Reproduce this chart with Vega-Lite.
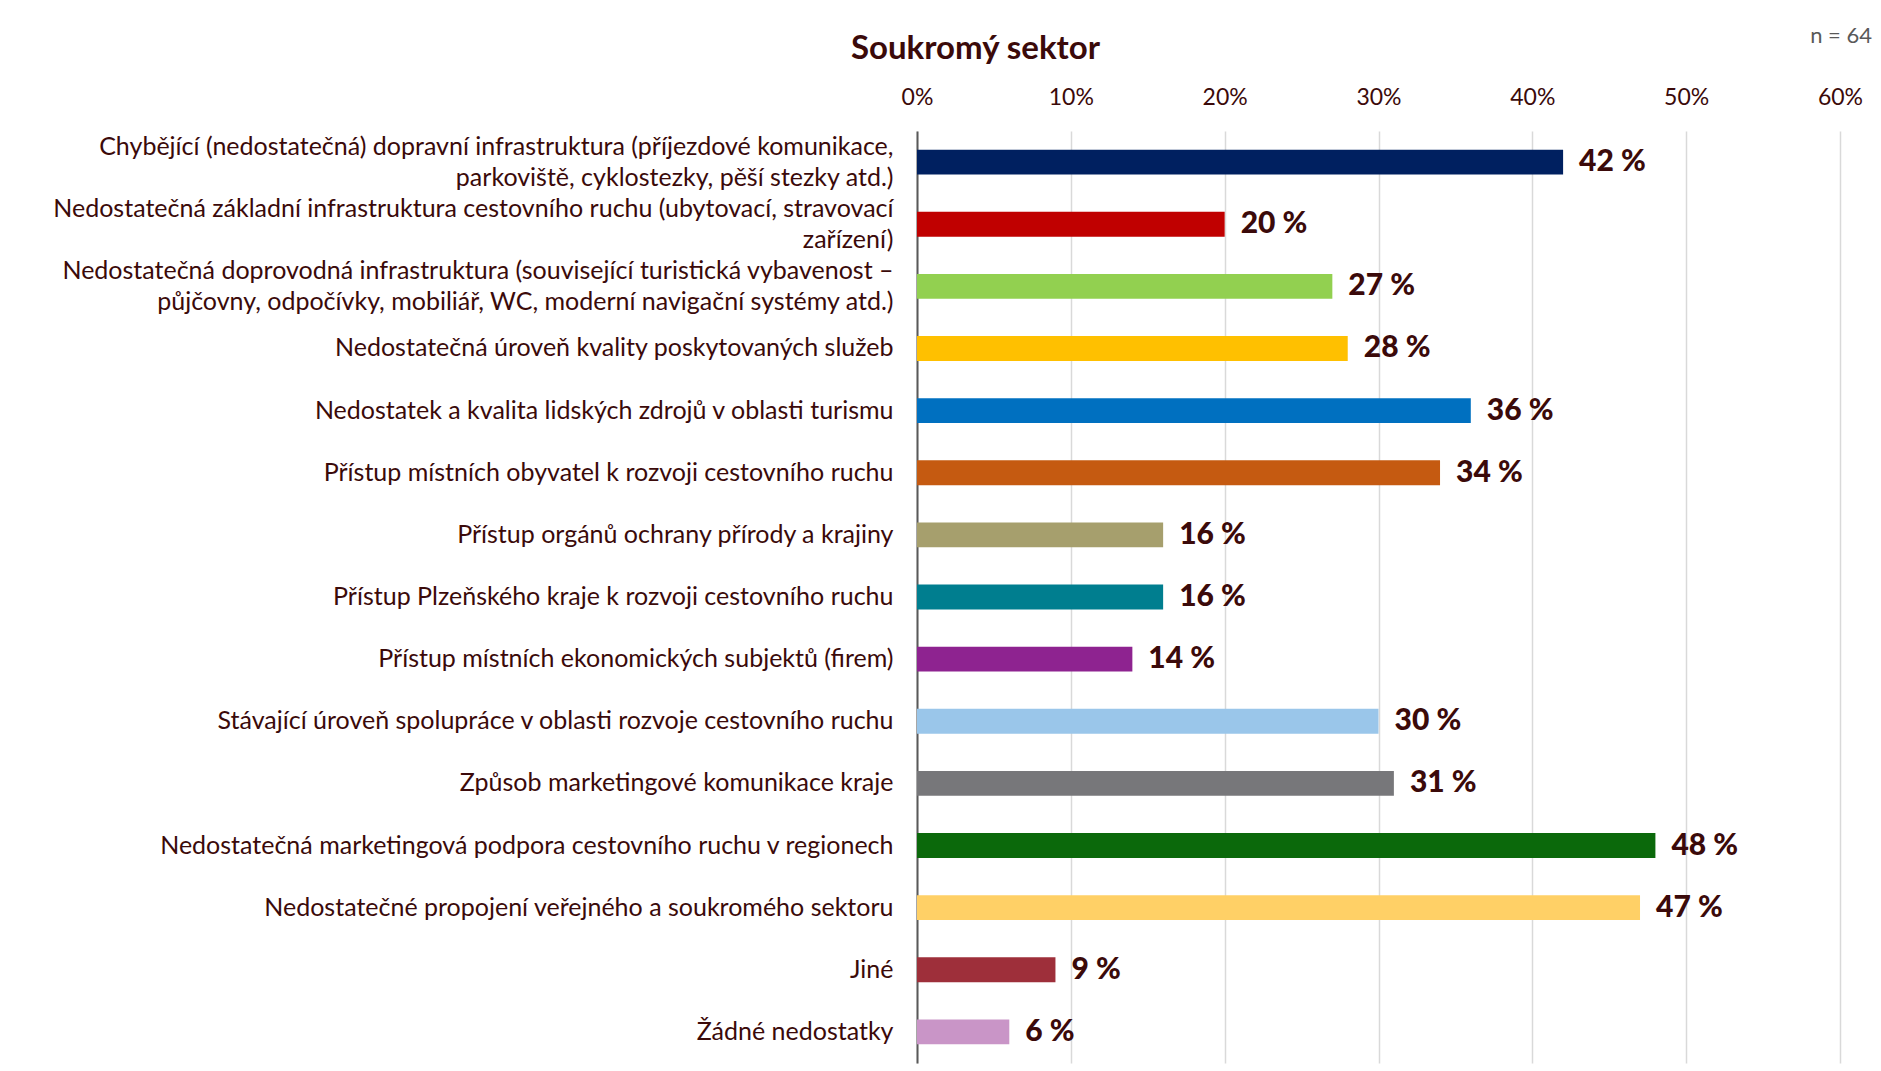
{
  "$schema": "https://vega.github.io/schema/vega-lite/v6.json",
  "width": 923,
  "height": 932,
  "autosize": "none",
  "padding": {"left": 917, "top": 131, "right": 41, "bottom": 8},
  "background": "white",
  "title": {
    "text": "n = 64",
    "anchor": "end",
    "frame": "group",
    "fontSize": 22,
    "fontWeight": "normal",
    "color": "#595959",
    "font": "Lato",
    "dx": 32,
    "offset": 0,
    "dy": 16
  },
  "config": {
    "view": {"stroke": null},
    "font": "Lato"
  },
  "data": {
    "values": [
      {"k": "Chybějící (nedostatečná) dopravní infrastruktura (příjezdové komunikace,\nparkoviště, cyklostezky, pěší stezky atd.)", "value": 42},
      {"k": "Nedostatečná základní infrastruktura cestovního ruchu (ubytovací, stravovací\nzařízení)", "value": 20},
      {"k": "Nedostatečná doprovodná infrastruktura (související turistická vybavenost –\npůjčovny, odpočívky, mobiliář, WC, moderní navigační systémy atd.)", "value": 27},
      {"k": "Nedostatečná úroveň kvality poskytovaných služeb", "value": 28},
      {"k": "Nedostatek a kvalita lidských zdrojů v oblasti turismu", "value": 36},
      {"k": "Přístup místních obyvatel k rozvoji cestovního ruchu", "value": 34},
      {"k": "Přístup orgánů ochrany přírody a krajiny", "value": 16},
      {"k": "Přístup Plzeňského kraje k rozvoji cestovního ruchu", "value": 16},
      {"k": "Přístup místních ekonomických subjektů (firem)", "value": 14},
      {"k": "Stávající úroveň spolupráce v oblasti rozvoje cestovního ruchu", "value": 30},
      {"k": "Způsob marketingové komunikace kraje", "value": 31},
      {"k": "Nedostatečná marketingová podpora cestovního ruchu v regionech", "value": 48},
      {"k": "Nedostatečné propojení veřejného a soukromého sektoru", "value": 47},
      {"k": "Jiné", "value": 9},
      {"k": "Žádné nedostatky", "value": 6}
    ]
  },
  "transform": [{"calculate": "datum.value + ' %'", "as": "lab"}],
  "encoding": {
    "y": {
      "field": "k",
      "type": "nominal",
      "sort": null,
      "scale": {"paddingInner": 0.6, "paddingOuter": 0.3},
      "axis": {
        "title": null,
        "labelExpr": "split(datum.label, '\\n')",
        "labelOffset": {"expr": "indexof(datum.value, '\\n') >= 0 ? -15 : 0"},
        "labelFontSize": 25,
        "labelColor": "#3B0A0A",
        "labelLineHeight": 31,
        "labelPadding": 24,
        "labelLimit": 1000,
        "ticks": false,
        "domain": true,
        "domainColor": "#595959",
        "domainWidth": 2,
        "grid": false
      }
    }
  },
  "layer": [
    {
      "mark": {"type": "bar"},
      "encoding": {
        "x": {
          "field": "value",
          "type": "quantitative",
          "scale": {"domain": [0, 60], "nice": false},
          "axis": {
            "orient": "top",
            "values": [0, 10, 20, 30, 40, 50, 60],
            "labelExpr": "datum.value + '%'",
            "labelFontSize": 23,
            "labelColor": "#3B0A0A",
            "labelPadding": 22,
            "labelFlush": false,
            "labelBound": false,
            "domain": false,
            "ticks": false,
            "grid": true,
            "gridColor": "#D9D9D9",
            "gridWidth": 1.5,
            "title": "Soukromý sektor",
            "titleFontSize": 33,
            "titleFontWeight": "bold",
            "titleColor": "#3B0A0A",
            "titleX": 58,
            "titleY": -83,
            "titleAlign": "center",
            "titleBaseline": "middle",
            "titleAnchor": null
          }
        },
        "color": {
          "field": "k",
          "type": "nominal",
          "sort": null,
          "legend": null,
          "scale": {
            "range": ["#002060", "#C00000", "#92D050", "#FFC000", "#0070C0", "#C55A11", "#A69F6D", "#007E8F", "#8E2390", "#9AC6EA", "#77777A", "#0B690B", "#FFD066", "#9E2F3A", "#C995C7"]
          }
        }
      }
    },
    {
      "mark": {"type": "text", "align": "left", "baseline": "middle", "dx": 16, "fontSize": 30, "fontWeight": 900, "color": "#3B0A0A", "font": "Lato"},
      "encoding": {
        "x": {"field": "value", "type": "quantitative"},
        "text": {"field": "lab"}
      }
    }
  ]
}
